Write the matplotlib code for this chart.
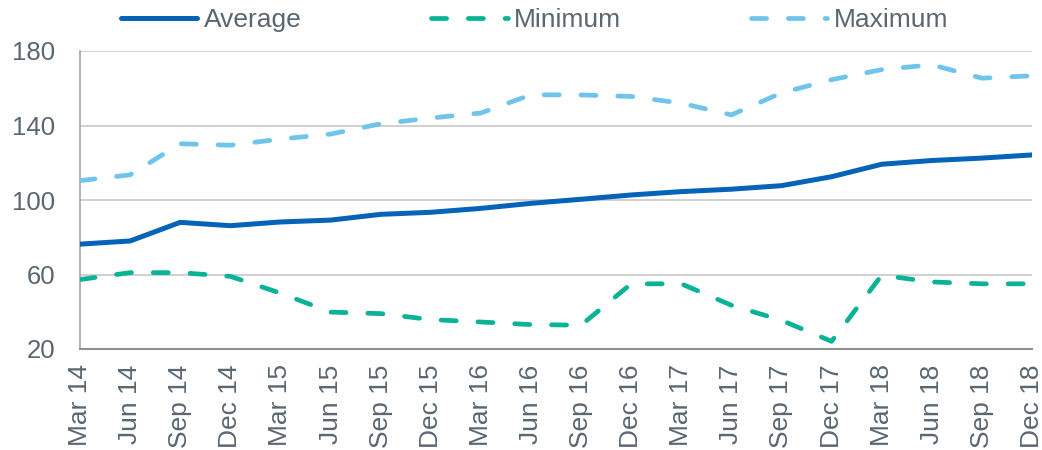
import matplotlib.pyplot as plt
import numpy as np

plt.rcParams['font.family'] = ['Liberation Sans', 'DejaVu Sans']

quarters = ['Mar 14', 'Jun 14', 'Sep 14', 'Dec 14', 'Mar 15', 'Jun 15', 'Sep 15', 'Dec 15',
            'Mar 16', 'Jun 16', 'Sep 16', 'Dec 16', 'Mar 17', 'Jun 17', 'Sep 17', 'Dec 17',
            'Mar 18', 'Jun 18', 'Sep 18', 'Dec 18']
average = [76.3, 78, 88, 86.2, 88.2, 89.2, 92.3, 93.4, 95.5, 98.2,
           100.4, 102.7, 104.5, 105.8, 107.7, 112.5, 119.2, 121.2, 122.5, 124.2]
minimum = [57.3, 61, 61, 59, 50, 39.8, 39, 35.8, 34.5, 33.1,
           32.8, 55, 55, 43.5, 35.4, 24.1, 59.6, 56, 55, 55]
maximum = [110.4, 113.5, 130.2, 129.4, 132.7, 135.4, 140.9, 144, 146.7, 156.5,
           156.4, 155.6, 152, 145.7, 157.5, 164.6, 170, 172.6, 165.4, 166.7]
y_ticks = [20, 60, 100, 140, 180]

text_col = '#5A6670'
fig = plt.figure(figsize=(10.42, 4.5), dpi=100)
ax = fig.add_axes([80 / 1042, 1 - 349 / 450, 952 / 1042, 298 / 450])

x = np.arange(len(quarters))
ax.plot(x, average, color='#0563B8', lw=3.6, label='Average', solid_capstyle='round', zorder=3)
ax.plot(x, minimum, color='#0BB396', lw=3.4, label='Minimum', dashes=(3.2, 4.6),
        dash_capstyle='round', zorder=3)
ax.plot(x, maximum, color='#6FC4EC', lw=3.4, label='Maximum', dashes=(3.2, 4.6),
        dash_capstyle='round', zorder=3)

ax.set_xlim(0, len(quarters) - 1)
ax.set_ylim(20, 180)
ax.set_yticks(y_ticks)
ax.set_xticks(x)
ax.set_xticklabels(quarters, rotation=90)
ax.tick_params(axis='both', length=0, colors=text_col)
ax.tick_params(axis='x', labelsize=19, pad=11)
ax.tick_params(axis='y', labelsize=18.5, pad=18)
ax.grid(axis='y', color='#C4C4C4', lw=1.1)
ax.set_axisbelow(True)
for side in ['top', 'right']:
    ax.spines[side].set_visible(False)
ax.spines['left'].set_color('#A0A6AA')
ax.spines['left'].set_linewidth(1.2)
ax.spines['bottom'].set_color('#8C9195')
ax.spines['bottom'].set_linewidth(1.5)

leg = fig.legend(loc='center', bbox_to_anchor=(0.513, 1 - 20 / 450), ncol=3, frameon=False,
                 fontsize=19, handlelength=2.9, columnspacing=4.9, handletextpad=0.25)
for t in leg.get_texts():
    t.set_color(text_col)

fig.savefig('out.png', dpi=100)
